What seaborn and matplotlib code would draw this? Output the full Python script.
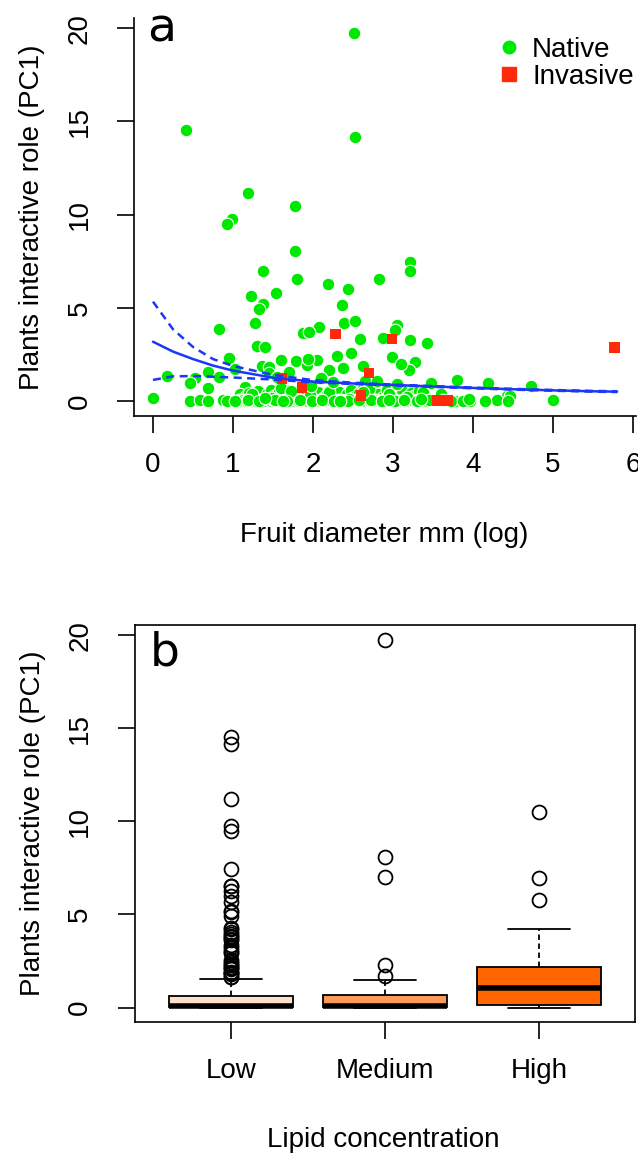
import matplotlib
matplotlib.use("Agg")
import matplotlib.pyplot as plt
from matplotlib.lines import Line2D
import pandas as pd
import seaborn as sns

# ---- data ----
# native plants, split by lipid concentration (same plants in both panels)
low_x = [
    # points above the whisker
    0.41, 2.53, 1.19, 0.99, 0.92, 3.21, 1.80, 2.82, 2.19, 2.44,
    1.22, 2.36, 1.38, 1.33, 2.39, 2.53, 3.05, 3.03, 0.83, 2.07,
    1.87, 1.95, 2.59, 3.21, 3.42, 1.30, 1.40, 0.95, 2.30, 2.48,
    2.99, 3.28, 1.79, 2.05, 1.36, 1.45, 1.92, 2.20, 2.38, 3.20,
    # 0.7 - 1.6
    0.18, 0.52, 0.46, 0.69, 0.83, 0.69, 1.15, 4.19, 4.73, 3.80,
    # 0.1 - 0.6
    0.00, 1.09, 1.16, 1.20, 1.27, 1.31, 1.37, 1.43, 1.47, 1.51,
    1.58, 1.62, 1.66, 1.73, 1.77, 1.83, 1.86, 1.92, 1.98, 2.02,
    2.06, 2.13, 2.17, 2.21, 2.28, 2.32, 2.36, 2.43, 2.47, 2.51,
    2.58, 2.62, 2.66, 2.73, 2.77, 2.81, 2.88, 2.92, 2.96, 3.03,
    3.07, 3.11, 3.18, 3.22, 3.26, 3.33, 3.40, 3.60, 4.42, 4.46,
    # bottom row
    0.46, 0.59, 0.69, 0.87, 3.78, 3.96, 4.30, 4.44, 5.00,
    1.05, 1.08, 1.10, 1.13, 1.15, 1.18, 1.21, 1.24, 1.26, 1.29,
    1.31, 1.34, 1.37, 1.40, 1.42, 1.45, 1.48, 1.50, 1.53, 1.56,
    1.59, 1.61, 1.64, 1.67, 1.70, 1.72, 1.75, 1.78, 1.80, 1.83,
    1.86, 1.89, 1.91, 1.94, 1.97, 2.00, 2.02, 2.05, 2.08, 2.10,
    2.13, 2.16, 2.19, 2.21, 2.24, 2.27, 2.30, 2.32, 2.35, 2.38,
    2.41, 2.43, 2.46, 2.49, 2.52, 2.54, 2.57, 2.60, 2.63, 2.65,
    2.68, 2.71, 2.74, 2.76, 2.79, 2.82, 2.85, 2.87, 2.90, 2.93,
    2.96, 2.98, 3.01, 3.04, 3.07, 3.09, 3.12, 3.15, 3.18, 3.20,
    3.23, 3.26, 3.29, 3.31, 3.34, 3.37, 3.40, 3.43, 3.48, 3.62, 3.72,
]
low_y = [
    14.54, 14.18, 11.18, 9.75, 9.48, 7.44, 6.55, 6.55, 6.28, 5.99,
    5.65, 5.13, 5.19, 4.92, 4.20, 4.29, 4.08, 3.81, 3.86, 3.97,
    3.63, 3.69, 3.34, 3.27, 3.09, 2.97, 2.91, 2.31, 2.43, 2.56,
    2.36, 2.08, 2.15, 2.20, 1.88, 1.84, 1.93, 1.66, 1.79, 1.66,
    1.36, 1.21, 0.95, 1.55, 1.30, 0.71, 0.77, 0.95, 0.80, 1.13,
    0.18, 0.35, 0.29, 0.45, 0.20, 0.55, 0.12, 0.38, 0.60, 0.25,
    0.48, 0.15, 0.58, 0.33, 0.22, 0.52, 0.10, 0.42, 0.62, 0.28,
    0.50, 0.17, 0.40, 0.60, 0.26, 0.47, 0.13, 0.36, 0.57, 0.21,
    0.44, 0.62, 0.30, 0.16, 0.53, 0.39, 0.24, 0.58, 0.11, 0.46,
    0.32, 0.61, 0.19, 0.43, 0.27, 0.55, 0.14, 0.35, 0.27, 0.25,
    0.00, 0.03, 0.01, 0.05, 0.00, 0.02, 0.04, 0.00, 0.06, 0.01,
    0.03, 0.00, 0.05, 0.02, 0.00, 0.04, 0.01, 0.06, 0.00, 0.03,
    0.02, 0.05, 0.00, 0.01, 0.04, 0.00, 0.03, 0.06, 0.02, 0.00,
    0.01, 0.04, 0.00, 0.06, 0.02, 0.03, 0.00, 0.05, 0.01, 0.00,
    0.05, 0.00, 0.02, 0.00, 0.03, 0.06, 0.01, 0.00, 0.04, 0.02,
    0.00, 0.06, 0.03, 0.01, 0.00, 0.05, 0.02, 0.04, 0.00, 0.01,
    0.04, 0.01, 0.00, 0.03, 0.05, 0.00, 0.06, 0.02, 0.00, 0.03,
    0.02, 0.00, 0.04, 0.05, 0.01, 0.00, 0.03, 0.00, 0.06, 0.02,
    0.06, 0.03, 0.00, 0.02, 0.00, 0.04, 0.01, 0.05, 0.00, 0.03,
    0.01, 0.00, 0.05, 0.00, 0.02, 0.06, 0.00, 0.03, 0.04, 0.00,
]
med_x = [
    2.51, 1.78, 3.21, 1.94, 1.03,
    1.45, 2.10, 2.65, 3.05, 1.60,
    1.24, 1.49, 1.73, 1.96, 2.20, 2.45, 2.70, 2.95, 3.18, 3.38,
    0.93, 1.02, 1.19, 1.33, 1.52, 1.68, 1.84, 1.99, 2.11, 2.26,
    2.44, 2.58, 2.73, 2.86, 3.02, 3.14, 3.30, 3.45, 3.88, 4.15,
]
med_y = [
    19.76, 8.06, 6.99, 2.27, 1.72,
    1.48, 1.25, 1.05, 0.90, 0.70,
    0.40, 0.18, 0.55, 0.30, 0.48, 0.12, 0.63, 0.36, 0.22, 0.50,
    0.00, 0.02, 0.05, 0.01, 0.03, 0.00, 0.04, 0.02, 0.05, 0.00,
    0.01, 0.03, 0.05, 0.02, 0.00, 0.04, 0.01, 0.03, 0.00, 0.02,
]
high_x = [1.62, 2.34, 2.95, 3.35, 3.95, 1.40, 2.62, 1.98, 3.48, 2.25, 2.80,
          1.55, 1.70, 2.62, 3.10, 1.60, 2.87, 1.27, 1.54, 1.375, 1.78]
high_y = [0.00, 0.02, 0.05, 0.08, 0.12, 0.15, 0.50, 0.80, 0.95, 1.00, 1.05,
          1.30, 1.58, 1.90, 2.00, 2.20, 3.38, 4.20, 5.79, 6.97, 10.48]

# invasive plants
inv_x = [1.61, 2.28, 2.99, 2.70, 1.86, 2.60, 3.55, 3.68, 5.77]
inv_y = [1.21, 3.59, 3.31, 1.49, 0.73, 0.29, 0.03, 0.03, 2.86]

# fitted curve and its confidence band
fit_x = [0, 0.25, 0.5, 0.75, 1.0, 1.5, 2.0, 2.5, 3.0, 3.5, 4.0, 4.5, 5.0, 5.5, 5.8]
fit_y = [3.18, 2.65, 2.25, 1.90, 1.63, 1.25, 1.04, 0.94, 0.86, 0.78, 0.70, 0.63, 0.57, 0.52, 0.50]
fit_hi = [5.33, 3.85, 2.90, 2.25, 1.88, 1.40, 1.12, 0.98, 0.88, 0.80, 0.72, 0.65, 0.59, 0.54, 0.52]
fit_lo = [1.13, 1.32, 1.34, 1.30, 1.26, 1.15, 1.00, 0.91, 0.84, 0.76, 0.68, 0.61, 0.55, 0.50, 0.48]

lipid_levels = ["Low", "Medium", "High"]
lipid_colors = ["#FDDFCA", "#FA9A58", "#FF6600"]

GREEN = "#00E800"
RED = "#FF2A0A"
BLUE = "#1A38F5"

sns.set_theme(style="ticks")
plt.rcParams['font.family'] = ['Liberation Sans', 'DejaVu Sans']
plt.rcParams['text.color'] = 'black'
plt.rcParams['axes.labelcolor'] = 'black'

fig = plt.figure(figsize=(6.38, 11.56), dpi=100)
ax_a = fig.add_axes([0.2107, 0.6404, 0.7856, 0.344])
ax_b = fig.add_axes([0.2116, 0.1157, 0.7837, 0.3437])

# ---- panel a ----
native = pd.DataFrame({"diam": low_x + med_x + high_x,
                       "pc1": low_y + med_y + high_y})
sns.scatterplot(data=native, x="diam", y="pc1", color=GREEN, s=82,
                edgecolor="white", linewidth=0.8, ax=ax_a, zorder=2)
sns.scatterplot(x=inv_x, y=inv_y, marker="s", color=RED, s=56,
                edgecolor="none", linewidth=0, ax=ax_a, zorder=3)
sns.lineplot(x=fit_x, y=fit_y, color=BLUE, lw=1.8, ax=ax_a, zorder=4)
for band in (fit_hi, fit_lo):
    sns.lineplot(x=fit_x, y=band, color=BLUE, lw=1.8,
                 linestyle=(0, (3.2, 2.2)), ax=ax_a, zorder=4)

ax_a.set_xlim(-0.232, 6.032)
ax_a.set_ylim(-0.79, 20.55)
ax_a.set_xticks(range(0, 7))
ax_a.set_yticks(range(0, 21, 5))
ax_a.spines["top"].set_visible(False)
ax_a.spines["right"].set_visible(False)

handles = [Line2D([], [], ls="", marker="o", color=GREEN, markeredgecolor="white", markersize=11),
           Line2D([], [], ls="", marker="s", color=RED, markersize=9.5)]
ax_a.legend(handles, ["Native", "Invasive"], loc="upper left", bbox_to_anchor=(0.7255, 0.952),
            frameon=False, fontsize=20, handlelength=0.8, handletextpad=0.43,
            labelspacing=0.02, borderpad=0, borderaxespad=0)
ax_a.set_xlabel("Fruit diameter mm (log)")
ax_a.set_ylabel("Plants interactive role (PC1)")
ax_a.text(0.025, 0.94, "a", transform=ax_a.transAxes, fontsize=34,
          family="DejaVu Sans", va="baseline")

# ---- panel b ----
box_df = pd.DataFrame({
    "lipid": ["Low"] * len(low_y) + ["Medium"] * len(med_y) + ["High"] * len(high_y),
    "pc1": low_y + med_y + high_y,
})
sns.boxplot(data=box_df, x="lipid", y="pc1", hue="lipid", order=lipid_levels,
            hue_order=lipid_levels, palette=lipid_colors, legend=False,
            width=0.8, saturation=1, linecolor="black", linewidth=1.3,
            fliersize=10, whis=1.5,
            medianprops=dict(color="black", linewidth=4),
            whiskerprops=dict(linestyle=(0, (3, 2))),
            flierprops=dict(marker="o", markerfacecolor="none",
                            markeredgecolor="black", markeredgewidth=1.3),
            ax=ax_b)
ax_b.set_xlim(-0.623, 2.623)
ax_b.set_ylim(-0.79, 20.55)
ax_b.set_yticks(range(0, 21, 5))
ax_b.set_xlabel("Lipid concentration")
ax_b.set_ylabel("Plants interactive role (PC1)")
ax_b.text(0.03, 0.899, "b", transform=ax_b.transAxes, fontsize=34,
          family="DejaVu Sans", va="baseline")

for ax in (ax_a, ax_b):
    for sp in ax.spines.values():
        sp.set_linewidth(1.2)
        sp.set_color("black")
    ax.tick_params(length=12, width=1.2, colors="black", labelcolor="black",
                   labelsize=20, pad=14)
    ax.tick_params(axis="y", labelrotation=90, pad=18)
    for lbl in ax.get_yticklabels():
        lbl.set_va("center")
    ax.xaxis.label.set_size(20)
    ax.yaxis.label.set_size(20)

ax_a.yaxis.set_label_coords(-0.178, 0.5)
ax_a.xaxis.set_label_coords(0.498, -0.267)
ax_b.yaxis.set_label_coords(-0.178, 0.5)
ax_b.xaxis.set_label_coords(0.496, -0.2635)
ax_a.xaxis.label.set_va("top")
ax_b.xaxis.label.set_va("top")

fig.savefig("out.png", dpi=100)
